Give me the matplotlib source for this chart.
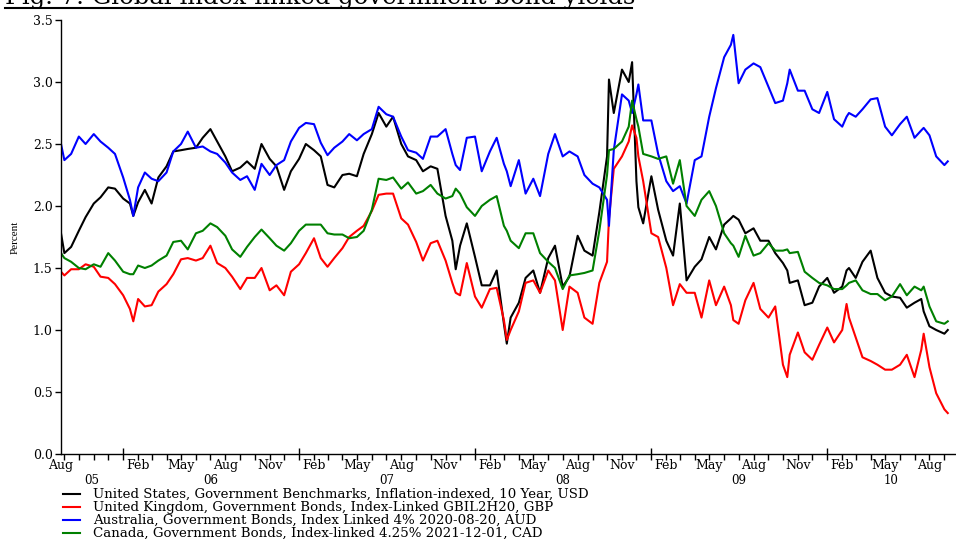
import numpy as np
import pandas as pd
import matplotlib
matplotlib.use('Agg')
import matplotlib.pyplot as plt
import matplotlib.dates as mdates
from matplotlib.lines import Line2D
from matplotlib.ticker import FormatStrFormatter
from matplotlib.transforms import blended_transform_factory

# OBSERVATION DATES: 1st & 15th of each month plus the turning points
extra_dates = ['2005-08-25', '2006-01-22', '2007-11-22', '2008-03-07', '2008-10-05',
               '2008-11-22', '2008-12-05', '2009-06-20', '2009-10-10', '2010-02-10',
               '2010-07-20', '2010-09-08']
dates = pd.DatetimeIndex(sorted(list(pd.date_range('2005-09-01', '2010-09-01', freq='SMS'))
                                + [pd.Timestamp(d) for d in extra_dates]))

# YIELDS (PERCENT), ONE ROW PER YEAR
us = [1.78, 1.62, 1.67, 1.80, 1.91, 2.02, 2.07, 2.15, 2.14,
      2.06, 2.02, 1.92, 2.03, 2.13, 2.02, 2.23, 2.32, 2.44, 2.45, 2.46, 2.47, 2.55,
      2.62, 2.52, 2.40, 2.28, 2.31, 2.36, 2.30, 2.50, 2.38, 2.32, 2.13, 2.28,
      2.38, 2.50, 2.45, 2.40, 2.17, 2.15, 2.25, 2.26, 2.24, 2.42, 2.58, 2.75,
      2.64, 2.72, 2.50, 2.40, 2.37, 2.28, 2.32, 2.30, 1.92, 1.72, 1.49, 1.68, 1.86,
      1.59, 1.36, 1.36, 1.48, 1.05, 0.89, 1.10, 1.22, 1.42, 1.48, 1.30, 1.58, 1.68,
      1.35, 1.43, 1.76, 1.64, 1.60, 1.95, 2.40, 3.02, 2.75, 3.10, 3.00, 3.16, 2.20,
      1.99, 1.86,
      2.24, 1.97, 1.72, 1.60, 2.02, 1.40, 1.51, 1.57, 1.75, 1.65, 1.85, 1.90, 1.92,
      1.89, 1.78, 1.82, 1.72, 1.72, 1.62, 1.54, 1.48, 1.38, 1.40, 1.20, 1.22, 1.35,
      1.42, 1.30, 1.35, 1.48, 1.50, 1.42, 1.55, 1.64, 1.42, 1.30, 1.27, 1.26, 1.18,
      1.22, 1.25, 1.15, 1.03, 1.00, 0.97, 1.00]

uk = [1.47, 1.44, 1.49, 1.49, 1.53, 1.51, 1.43, 1.42, 1.37,
      1.28, 1.17, 1.07, 1.25, 1.19, 1.20, 1.31, 1.37, 1.45, 1.57, 1.58, 1.56, 1.58,
      1.68, 1.54, 1.50, 1.43, 1.33, 1.42, 1.42, 1.50, 1.32, 1.36, 1.28, 1.47,
      1.53, 1.62, 1.74, 1.58, 1.51, 1.58, 1.66, 1.75, 1.80, 1.84, 1.96, 2.09,
      2.10, 2.10, 1.90, 1.85, 1.71, 1.56, 1.70, 1.72, 1.56, 1.38, 1.30, 1.28, 1.54,
      1.27, 1.18, 1.33, 1.34, 1.08, 0.92, 1.00, 1.15, 1.38, 1.40, 1.30, 1.48, 1.40,
      1.00, 1.35, 1.30, 1.10, 1.05, 1.38, 1.55, 1.90, 2.30, 2.40, 2.52, 2.65, 2.55,
      2.40, 2.20,
      1.78, 1.75, 1.50, 1.20, 1.37, 1.30, 1.30, 1.10, 1.40, 1.20, 1.35, 1.20, 1.08,
      1.05, 1.24, 1.38, 1.17, 1.10, 1.19, 0.72, 0.62, 0.80, 0.98, 0.82, 0.76, 0.88,
      1.02, 0.90, 1.00, 1.21, 1.10, 0.94, 0.78, 0.75, 0.72, 0.68, 0.68, 0.72, 0.80,
      0.62, 0.84, 0.97, 0.70, 0.49, 0.36, 0.33]

aus = [2.50, 2.37, 2.42, 2.56, 2.50, 2.58, 2.52, 2.47, 2.42,
       2.23, 2.05, 1.92, 2.15, 2.27, 2.22, 2.20, 2.27, 2.44, 2.50, 2.60, 2.47, 2.48,
       2.44, 2.42, 2.35, 2.27, 2.21, 2.24, 2.13, 2.34, 2.25, 2.33, 2.37, 2.52,
       2.63, 2.67, 2.66, 2.51, 2.41, 2.47, 2.52, 2.58, 2.53, 2.58, 2.62, 2.80,
       2.74, 2.72, 2.56, 2.45, 2.43, 2.38, 2.56, 2.56, 2.62, 2.42, 2.33, 2.29, 2.55,
       2.56, 2.28, 2.44, 2.55, 2.34, 2.28, 2.16, 2.37, 2.10, 2.22, 2.08, 2.42, 2.58,
       2.40, 2.44, 2.40, 2.25, 2.18, 2.15, 2.05, 1.84, 2.45, 2.90, 2.85, 2.75, 2.90,
       2.98, 2.69,
       2.69, 2.42, 2.20, 2.12, 2.16, 2.02, 2.37, 2.40, 2.72, 2.95, 3.20, 3.30, 3.38,
       2.99, 3.10, 3.15, 3.12, 2.96, 2.83, 2.85, 2.99, 3.10, 2.93, 2.93, 2.78, 2.75,
       2.92, 2.70, 2.64, 2.72, 2.75, 2.72, 2.78, 2.86, 2.87, 2.64, 2.57, 2.66, 2.72,
       2.55, 2.61, 2.63, 2.57, 2.40, 2.33, 2.36]

can = [1.62, 1.58, 1.55, 1.50, 1.49, 1.53, 1.51, 1.62, 1.56,
       1.47, 1.45, 1.45, 1.52, 1.50, 1.52, 1.56, 1.60, 1.71, 1.72, 1.65, 1.78, 1.80,
       1.86, 1.83, 1.76, 1.65, 1.59, 1.67, 1.75, 1.81, 1.74, 1.68, 1.64, 1.70,
       1.80, 1.85, 1.85, 1.85, 1.78, 1.77, 1.77, 1.74, 1.75, 1.80, 1.97, 2.22,
       2.21, 2.23, 2.14, 2.19, 2.10, 2.12, 2.17, 2.10, 2.06, 2.08, 2.14, 2.10, 1.99,
       1.92, 2.00, 2.05, 2.08, 1.84, 1.80, 1.72, 1.66, 1.78, 1.78, 1.62, 1.55, 1.50,
       1.33, 1.44, 1.45, 1.46, 1.48, 1.80, 2.25, 2.45, 2.46, 2.52, 2.64, 2.85, 2.70,
       2.64, 2.42,
       2.40, 2.38, 2.40, 2.18, 2.37, 2.00, 1.92, 2.05, 2.12, 2.00, 1.78, 1.70, 1.68,
       1.59, 1.76, 1.60, 1.62, 1.70, 1.64, 1.64, 1.65, 1.62, 1.63, 1.47, 1.42, 1.38,
       1.36, 1.33, 1.33, 1.36, 1.38, 1.40, 1.32, 1.29, 1.29, 1.24, 1.27, 1.37, 1.28,
       1.35, 1.32, 1.35, 1.19, 1.07, 1.05, 1.07]

series = [
    (us, 'black', 'United States, Government Benchmarks, Inflation-indexed, 10 Year, USD'),
    (uk, 'red', 'United Kingdom, Government Bonds, Index-Linked GBIL2H20, GBP'),
    (aus, 'blue', 'Australia, Government Bonds, Index Linked 4% 2020-08-20, AUD'),
    (can, 'green', 'Canada, Government Bonds, Index-linked 4.25% 2021-12-01, CAD'),
]
for vals, _, _ in series:
    assert len(vals) == len(dates)

month_labels = ['Feb', 'May', 'Aug', 'Nov']
year_labels = ['05', '06', '07', '08', '09', '10']

plt.rcParams['font.family'] = 'DejaVu Serif'

W, H = 956, 539
fig = plt.figure(figsize=(W / 100, H / 100), dpi=100)
ax = fig.add_axes([61 / W, 85 / H, 894 / W, 434 / H])

x_start = pd.Timestamp('2005-08-25')
x_end = pd.Timestamp('2010-09-23')

for vals, col, name in series:
    ax.plot(dates, vals, color=col, lw=1.5, label=name)

ax.set_xlim(x_start, x_end)
ax.set_ylim(0, 3.5)
ax.set_yticks(np.arange(0, 3.51, 0.5))
ax.yaxis.set_major_formatter(FormatStrFormatter('%.1f'))
ax.set_ylabel('Percent', family='Liberation Serif', fontsize=8)
ax.yaxis.set_label_coords(-41 / 894, 0.5)

for s in ['top', 'right']:
    ax.spines[s].set_visible(False)
for s in ['left', 'bottom']:
    ax.spines[s].set_linewidth(1.0)

ax.xaxis.set_major_locator(mdates.YearLocator())
ax.xaxis.set_minor_locator(mdates.MonthLocator())
ax.xaxis.set_major_formatter(plt.NullFormatter())
ax.tick_params(axis='x', which='major', direction='inout', length=9, width=1)
ax.tick_params(axis='x', which='minor', direction='out', length=4, width=1)
ax.tick_params(axis='y', direction='out', length=4, width=1, labelsize=9, pad=2)

# MONTH AND YEAR LABELS UNDER THE AXIS
tr = blended_transform_factory(ax.transData, ax.transAxes)
ax.text(x_start, -0.026, 'Aug', transform=tr, ha='center', va='center', fontsize=9)
for d in pd.date_range('2006-01-01', '2010-09-01', freq='MS'):
    lab = d.strftime('%b')
    if lab in month_labels:
        ax.text(d, -0.026, lab, transform=tr, ha='center', va='center', fontsize=9)

for yl in year_labels:
    y0 = max(pd.Timestamp(f'20{yl}-01-01'), x_start)
    y1 = min(pd.Timestamp(f'20{yl}-12-31'), x_end)
    mid = y0 + (y1 - y0) / 2
    ax.text(mid, -0.061, yl, transform=tr, ha='center', va='center', fontsize=8.5)

# LEGEND AS STACKED ROWS
for i, (vals, col, name) in enumerate(series):
    yy = 1 - (494 + 13 * i) / H
    fig.add_artist(Line2D([63 / W, 80 / W], [yy, yy], color=col, lw=1.5))
    fig.text(93 / W, yy, name, fontsize=9.6, va='center', ha='left')

# TITLE WITH UNDERLINE
fig.text(5 / W, 1 - 4 / H, 'Fig. 7: Global index-linked government bond yields',
         fontsize=17.5, va='baseline', ha='left')
fig.add_artist(Line2D([5 / W, 632 / W], [1 - 7.5 / H, 1 - 7.5 / H], color='black', lw=1.5))

fig.savefig('out.png', dpi=100)
